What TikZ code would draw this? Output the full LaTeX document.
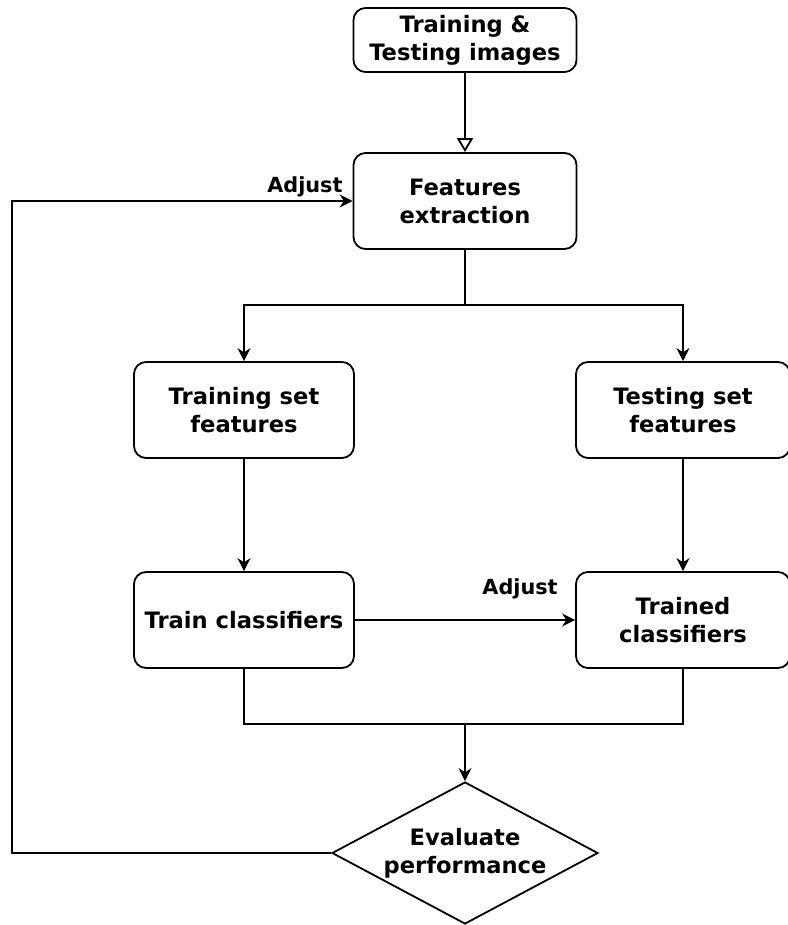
\documentclass[tikz,border=0pt]{standalone}
\usepackage{fontspec}
\setmainfont{DejaVu Sans}
\usetikzlibrary{shapes.geometric,arrows.meta}

\begin{document}
\begin{tikzpicture}[x=0.5pt,y=-0.5pt,
  box/.style={rectangle, rounded corners=6pt, draw, line width=0.9pt, align=center,
    minimum width=110pt, minimum height=48pt, inner sep=0pt,
    font=\bfseries\fontsize{11.3}{14}\selectfont},
  decide/.style={diamond, aspect=1.87, draw, line width=0.9pt, align=center,
    minimum width=133pt, minimum height=71pt, inner sep=0pt,
    font=\bfseries\fontsize{11.3}{14}\selectfont},
  lbl/.style={font=\bfseries\fontsize{10.4}{12}\selectfont, inner sep=0pt},
  line/.style={line width=0.9pt},
  link/.style={line width=0.9pt, -{Stealth[length=6.5pt,width=6.5pt]}}]
  \useasboundingbox (0,0) rectangle (787,925);

  \node[box, minimum width=111.5pt, minimum height=32pt] (images) at (465,40) {Training \&\\Testing images};
  \node[box, minimum width=111.5pt] (extract) at (465,201) {Features\\extraction};
  \node[box] (trainset) at (244,410) {Training set\\features};
  \node[box, minimum width=107pt] (testset) at (683,410) {Testing set\\features};
  \node[box] (train) at (244,620) {Train classifiers};
  \node[box, minimum width=107pt] (trained) at (683,620) {Trained\\classifiers};
  \node[decide] (eval) at (465,853) {Evaluate\\performance};

  \coordinate (split) at (465,305);
  \coordinate (join) at (465,724);
  \coordinate (back) at (12,201);

  % input to features
  \draw[line, -{Triangle[open,length=7pt,width=8pt]}] (images) -- (extract);
  % split into the two sets
  \draw[line] (extract) -- (split);
  \draw[link] (split) -| (trainset);
  \draw[link] (split) -| (testset);
  \draw[link] (trainset) -- (train);
  \draw[link] (testset) -- (trained);
  \draw[link] (train) -- (trained) node[lbl, pos=0.75, anchor=base, yshift=13pt] {Adjust};
  % evaluation and feedback
  \draw[line] (train) |- (join);
  \draw[line] (trained) |- (join);
  \draw[link] (join) -- (eval);
  \draw[link] (eval.west) -| (back) -- (extract) node[lbl, pos=0.86, anchor=base, yshift=4.5pt] {Adjust};
\end{tikzpicture}
\end{document}
